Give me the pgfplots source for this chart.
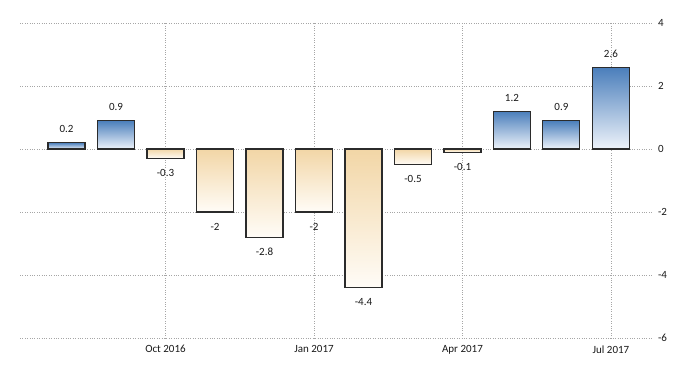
\documentclass[border=0pt]{standalone}
\usepackage{pgfplots}
\pgfplotsset{compat=1.18}
\usepackage{fontspec}
\setmainfont{Carlito}
\definecolor{bluetop}{HTML}{4A7EBB}
\definecolor{bluebot}{HTML}{EEF3FA}
\definecolor{orgtop}{HTML}{F2D6A6}
\definecolor{orgbot}{HTML}{FFFCF7}
\definecolor{edge}{HTML}{2B2B2B}
\pgfplotsset{
  barbase/.style={ybar, bar width=37pt, bar shift=0pt, draw=edge, line width=1.1pt,
    nodes near coords,
    every node near coord/.style={text=black!90, font=\fontsize{11}{12}\selectfont}},
  pos/.style={barbase, top color=bluetop, bottom color=bluebot,
    every node near coord/.append style={anchor=south, yshift=6pt}},
  neg/.style={barbase, top color=orgtop, bottom color=orgbot,
    every node near coord/.append style={anchor=north, yshift=-7pt}},
}
\begin{document}
\begin{tikzpicture}
\useasboundingbox (0pt,0pt) rectangle (700pt,375pt);
\begin{axis}[
  at={(20pt,37pt)}, anchor=south west,
  scale only axis, width=632pt, height=315pt,
  xmin=-0.94, xmax=11.83, ymin=-6, ymax=4,
  axis line style={draw=none},
  major tick length=0pt,
  xtick={2,5,8,11},
  xticklabels={Oct 2016,Jan 2017,Apr 2017,Jul 2017},
  ytick={-6,-4,-2,0,2,4},
  yticklabel pos=right,
  grid=major,
  major grid style={dotted, black!35, line width=0.6pt},
  tick label style={font=\fontsize{11}{12}\selectfont, text=black!90},
  xticklabel style={yshift=-4pt},
  yticklabel style={xshift=2.5pt},
  /pgf/number format/assume math mode=true,
  clip=false,
]
\addplot[pos] coordinates {(0,0.2)};
\addplot[pos] coordinates {(1,0.9)};
\addplot[neg] coordinates {(2,-0.3)};
\addplot[neg] coordinates {(3,-2)};
\addplot[neg] coordinates {(4,-2.8)};
\addplot[neg] coordinates {(5,-2)};
\addplot[neg] coordinates {(6,-4.4)};
\addplot[neg] coordinates {(7,-0.5)};
\addplot[neg] coordinates {(8,-0.1)};
\addplot[pos] coordinates {(9,1.2)};
\addplot[pos] coordinates {(10,0.9)};
\addplot[pos] coordinates {(11,2.6)};
\end{axis}
\end{tikzpicture}
\end{document}
